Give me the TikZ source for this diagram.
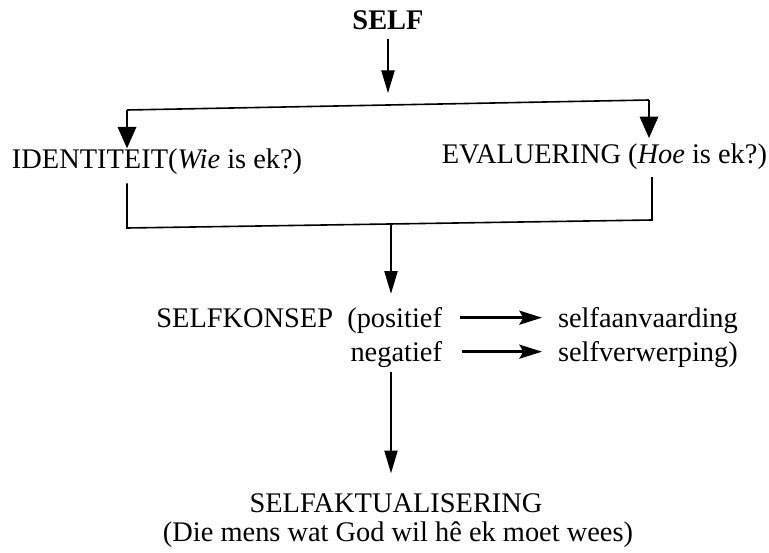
\documentclass[tikz,border=0pt]{standalone}
\usepackage{fontspec}
\setmainfont{Liberation Serif}
\usetikzlibrary{arrows.meta}
\begin{document}
\begin{tikzpicture}[x=0.75pt,y=-0.75pt,
  txt/.style={inner sep=0pt,outer sep=0pt,font=\fontsize{21.3}{25}\selectfont},
  barline/.style={line width=1.2pt},
  varrow/.style={line width=0.8pt,-{Triangle[length=17pt,width=10pt]}},
  sarrow/.style={line width=0.9pt,-{Triangle[length=16pt,width=14pt]}},
  harrow/.style={line width=2pt,-{Stealth[length=17pt,width=10.5pt,inset=3pt]}}]
\useasboundingbox (0,0) rectangle (769,553);

% texts
\node[txt,anchor=base,font=\fontsize{21.3}{25}\selectfont\bfseries] (self) at (388,29) {SELF};
\node[txt,anchor=base west] (id) at (12,168) {IDENTITEIT(\textit{Wie} is ek?)};
\node[txt,anchor=base east] (ev) at (767,163) {EVALUERING (\textit{Hoe} is ek?)};
\node[txt,anchor=base east] (sk) at (442,327) {SELFKONSEP\ \ (positief};
\node[txt,anchor=base east] (neg) at (442,361) {negatief};
\node[txt,anchor=base west] (aan) at (558,327) {selfaanvaarding};
\node[txt,anchor=base west] (ver) at (558,361) {selfverwerping)};
\node[txt,anchor=base] (sa) at (396,512) {SELFAKTUALISERING};
\node[txt,anchor=base] (god) at (398,541) {(Die mens wat God wil hê ek moet wees)};

% coordinates of the brackets
\coordinate (bl) at (127,110);
\coordinate (br) at (649,100);
\coordinate (barin) at (388,93);
\coordinate (cl) at (127,228);
\coordinate (cr) at (652,220);
\coordinate (cm) at (391,224);
\coordinate (lm) at (391,372);

% SELF to upper bar
\draw[varrow,shorten <=7.5pt] (self.base) -- (barin);
\draw[barline] (bl) -- (br);
\draw[sarrow] (bl) -- (bl |- id.north);
\draw[sarrow,shorten >=4pt] (br) -- (br |- ev.north);

% lower bracket
\draw[barline,shorten <=7pt,shorten >=6pt] (id.south -| cl) -- (cl) -- (cr) -- (ev.south -| cr);
\draw[varrow,shorten >=10pt] (cm) -- (sk.north -| cm);

% positief / negatief arrows
\draw[harrow] ([xshift=13.5pt,yshift=7pt]sk.base east) -- ([xshift=-12pt,yshift=7pt]aan.base west);
\draw[harrow] ([xshift=15pt,yshift=7pt]neg.base east) -- ([xshift=-12pt,yshift=7pt]ver.base west);

% to SELFAKTUALISERING
\draw[varrow,shorten >=15pt] (lm) -- (sa.north -| lm);
\end{tikzpicture}
\end{document}
